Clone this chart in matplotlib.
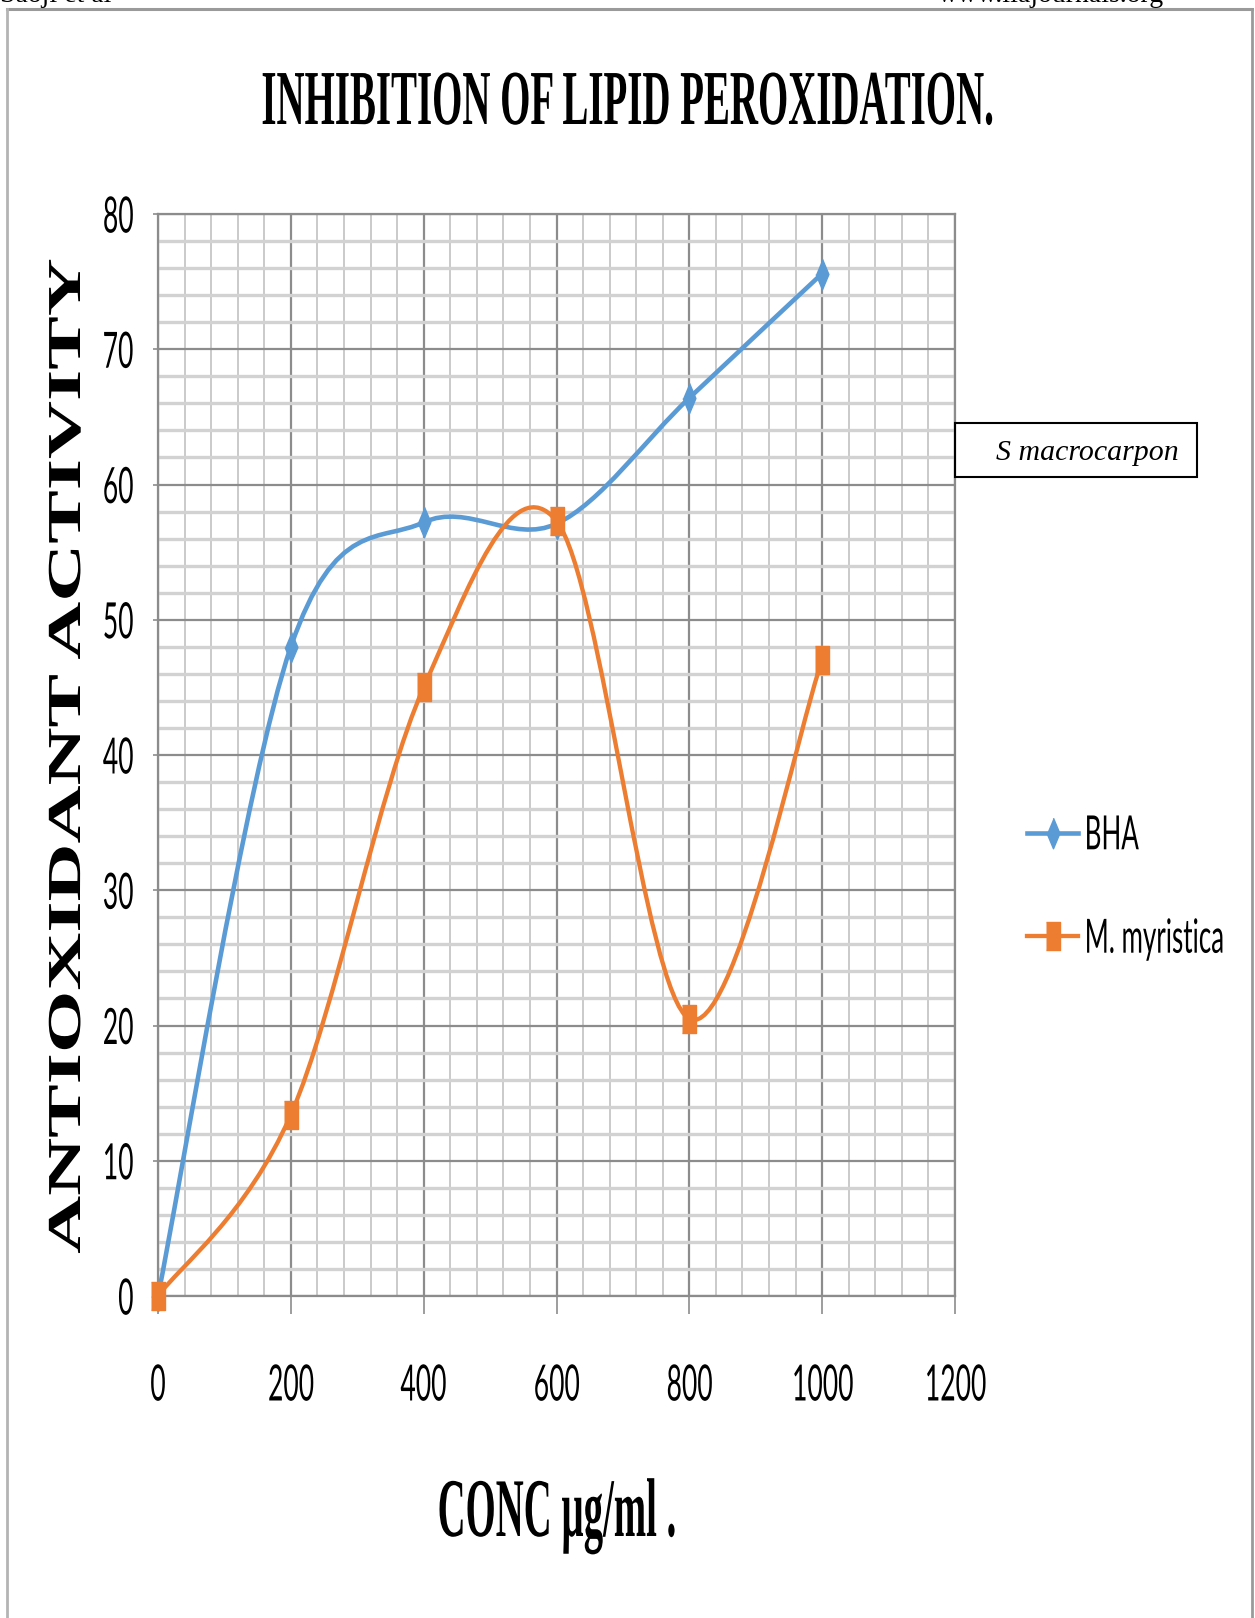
#!/usr/bin/env python3
import numpy as np
import matplotlib

matplotlib.use("Agg")
import matplotlib.pyplot as plt
from matplotlib.lines import Line2D
from matplotlib.patches import PathPatch, Rectangle
from matplotlib.path import Path
from matplotlib.patheffects import AbstractPathEffect
from matplotlib.ticker import MultipleLocator
from matplotlib.transforms import Affine2D

# values
conc = [0, 200, 400, 600, 800, 1000]
bha = [0, 48.0, 57.2, 57.1, 66.4, 75.6]
myristica = [0, 13.4, 45.0, 57.3, 20.5, 47.0]
x_ticks = [0, 200, 400, 600, 800, 1000, 1200]
y_ticks = [0, 10, 20, 30, 40, 50, 60, 70, 80]
series_names = ["BHA", "M. myristica"]

BLUE = "#5B9BD5"
ORANGE = "#ED7D31"
GRID_MAJOR = "#8c8c8c"
SERIF = ["Liberation Serif", "DejaVu Serif"]
SANS = ["Lato", "DejaVu Sans"]

W, H = 1255, 1618


class Squeeze(AbstractPathEffect):
    """Scale text along its baseline; the reference page was squashed sideways."""

    def __init__(self, sx, anchor=0.5):
        super().__init__()
        self.sx = sx
        self.anchor = anchor

    def draw_path(self, renderer, gc, tpath, affine, rgbFace=None):
        ext = tpath.get_extents()
        x0 = ext.x0 + self.anchor * (ext.x1 - ext.x0)
        squeeze = Affine2D().translate(-x0, 0).scale(self.sx, 1).translate(x0, 0)
        renderer.draw_path(gc, tpath, squeeze + affine, rgbFace)


def smooth_path(xs, ys):
    # Excel style smoothed line (Catmull-Rom as cubic Bezier segments)
    pts = np.column_stack([xs, ys]).astype(float)
    n = len(pts)
    verts = [pts[0]]
    codes = [Path.MOVETO]
    for i in range(n - 1):
        p0 = pts[max(i - 1, 0)]
        p1 = pts[i]
        p2 = pts[i + 1]
        p3 = pts[min(i + 2, n - 1)]
        verts += [p1 + (p2 - p0) / 6.0, p2 - (p3 - p1) / 6.0, p2]
        codes += [Path.CURVE4] * 3
    return Path(verts, codes)


def fx(px):
    return px / W


def fy(py):
    return 1 - py / H


diamond = [(0, 1), (0.42, 0), (0, -1), (-0.42, 0)]
tall_square = [(-0.55, -1), (0.55, -1), (0.55, 1), (-0.55, 1)]

plt.rcParams["font.family"] = SANS

fig = plt.figure(figsize=(W / 100, H / 100), dpi=100)
ax = fig.add_axes([fx(158), fy(1296), fx(955) - fx(158), fy(214) - fy(1296)])

ax.set_xlim(0, 1200)
ax.set_ylim(0, 80)
ax.set_xticks(x_ticks)
ax.set_yticks(y_ticks)
ax.xaxis.set_minor_locator(MultipleLocator(40))
ax.yaxis.set_minor_locator(MultipleLocator(2))

ax.grid(which="major", color=GRID_MAJOR, lw=1.6)
ax.grid(which="minor", axis="y", color="#d2d2d2", lw=2.4)
ax.grid(which="minor", axis="x", color="#c6c6c6", lw=1.3)
ax.set_axisbelow(True)
for side in ["left", "bottom", "top", "right"]:
    ax.spines[side].set_color(GRID_MAJOR)
    ax.spines[side].set_linewidth(1.6)

ax.tick_params(which="minor", length=0)
ax.tick_params(axis="x", which="major", direction="out", length=12.6, width=1.2,
               color=GRID_MAJOR, pad=36, labelsize=36)
ax.tick_params(axis="y", which="major", direction="out", length=3.6, width=1.2,
               color=GRID_MAJOR, pad=13.5, labelsize=36)
for lbl in ax.get_xticklabels():
    lbl.set_path_effects([Squeeze(0.53, 0.5)])
for lbl in ax.get_yticklabels():
    lbl.set_path_effects([Squeeze(0.53, 1.0)])

# smoothed lines, then the markers on top
ax.add_patch(PathPatch(smooth_path(conc, bha), facecolor="none", edgecolor=BLUE,
                       lw=3.3, zorder=3))
ax.plot(conc, bha, ls="none", marker=diamond, ms=22, color=BLUE, mec=BLUE,
        zorder=4, clip_on=False)
ax.add_patch(PathPatch(smooth_path(conc, myristica), facecolor="none", edgecolor=ORANGE,
                       lw=3.1, zorder=5))
ax.plot(conc, myristica, ls="none", marker=tall_square, ms=19.5, color=ORANGE,
        mec=ORANGE, zorder=6, clip_on=False)

handles = [
    Line2D([], [], color=BLUE, lw=3.3, marker=diamond, ms=22),
    Line2D([], [], color=ORANGE, lw=3.1, marker=tall_square, ms=19.5),
]
leg = ax.legend(handles, series_names, loc="center left",
                bbox_to_anchor=(fx(1027), fy(888)), bbox_transform=fig.transFigure,
                frameon=False, borderpad=0, borderaxespad=0, handlelength=1.08,
                handletextpad=0.1, labelspacing=1.3, fontsize=34, numpoints=1)
for t in leg.get_texts():
    t.set_path_effects([Squeeze(0.55, 0.0)])

# titles
fig.text(0.5, fy(124), "INHIBITION OF LIPID PEROXIDATION.", ha="center", va="baseline",
         family=SERIF, weight="bold", fontsize=56, path_effects=[Squeeze(0.50)])
fig.text(fx(557), fy(1536), "CONC µg/ml .", ha="center", va="baseline",
         family=SERIF, weight="bold", fontsize=60, path_effects=[Squeeze(0.465)])
fig.text(fx(80), fy(756), "ANTIOXIDANT ACTIVITY", ha="center", va="baseline",
         rotation=90, rotation_mode="anchor", family=SERIF, weight="bold",
         fontsize=34, path_effects=[Squeeze(1.70)])

# species box
fig.add_artist(Rectangle((fx(955), fy(477)), fx(1197) - fx(955), fy(423) - fy(477),
                         transform=fig.transFigure, facecolor="none",
                         edgecolor="black", lw=1.5))
fig.text(fx(996), fy(460), "S macrocarpon", ha="left", va="baseline",
         family=SERIF, style="italic", fontsize=21.5)

# page frame and the clipped running header of the journal page
fig.add_artist(Line2D([fx(7), fx(1252)], [fy(9), fy(9)], transform=fig.transFigure,
                      color="#9a9a9a", lw=2.2))
fig.add_artist(Line2D([fx(7), fx(7)], [fy(9), 0], transform=fig.transFigure,
                      color="#b4b4b4", lw=2.0))
fig.add_artist(Line2D([fx(1252), fx(1252)], [fy(9), 0], transform=fig.transFigure,
                      color="#9a9a9a", lw=2.0))
fig.text(0.0, fy(2), "Saoji et al", ha="left", va="baseline", family=SERIF, fontsize=20)
fig.text(fx(1164), fy(2), "www.iiajournals.org", ha="right", va="baseline",
         family=SERIF, fontsize=20)

fig.savefig("out.png", dpi=100)
